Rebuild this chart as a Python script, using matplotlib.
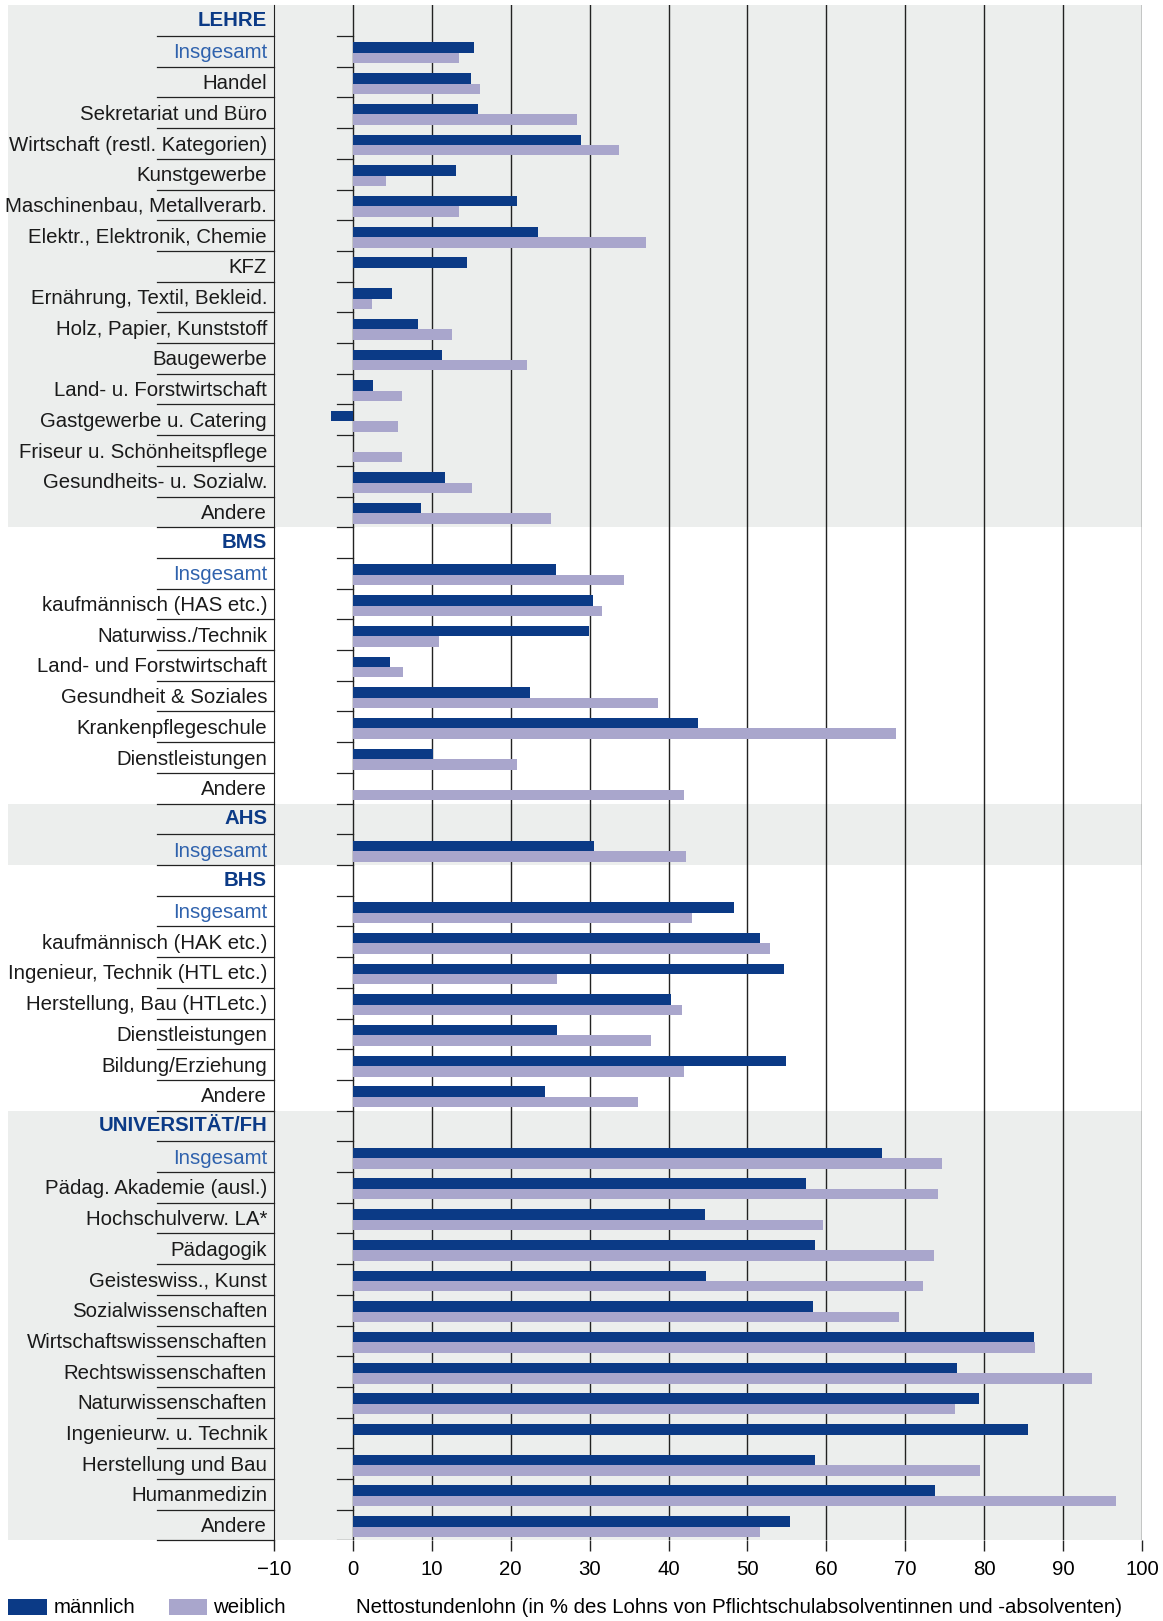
import matplotlib
matplotlib.use("Agg")
import matplotlib.pyplot as plt
from matplotlib.patches import Rectangle
import matplotlib.transforms as mtransforms

plt.rcParams['font.family'] = ['Liberation Sans', 'DejaVu Sans']

# (label, kind, male, female); kind: 'h' header, 'i' Insgesamt, 'r' row
rows = [
    ("LEHRE", "h", None, None),
    ("Insgesamt", "i", 15.3, 13.4),
    ("Handel", "r", 15.0, 16.1),
    ("Sekretariat und Büro", "r", 15.9, 28.4),
    ("Wirtschaft (restl. Kategorien)", "r", 28.9, 33.7),
    ("Kunstgewerbe", "r", 13.0, 4.2),
    ("Maschinenbau, Metallverarb.", "r", 20.8, 13.4),
    ("Elektr., Elektronik, Chemie", "r", 23.4, 37.1),
    ("KFZ", "r", 14.5, None),
    ("Ernährung, Textil, Bekleid.", "r", 4.9, 2.4),
    ("Holz, Papier, Kunststoff", "r", 8.2, 12.5),
    ("Baugewerbe", "r", 11.3, 22.1),
    ("Land- u. Forstwirtschaft", "r", 2.5, 6.2),
    ("Gastgewerbe u. Catering", "r", -2.8, 5.7),
    ("Friseur u. Schönheitspflege", "r", None, 6.2),
    ("Gesundheits- u. Sozialw.", "r", 11.7, 15.1),
    ("Andere", "r", 8.6, 25.1),
    ("BMS", "h", None, None),
    ("Insgesamt", "i", 25.7, 34.3),
    ("kaufmännisch (HAS etc.)", "r", 30.4, 31.6),
    ("Naturwiss./Technik", "r", 29.9, 10.9),
    ("Land- und Forstwirtschaft", "r", 4.7, 6.4),
    ("Gesundheit & Soziales", "r", 22.4, 38.6),
    ("Krankenpflegeschule", "r", 43.7, 68.8),
    ("Dienstleistungen", "r", 10.1, 20.8),
    ("Andere", "r", None, 42.0),
    ("AHS", "h", None, None),
    ("Insgesamt", "i", 30.5, 42.2),
    ("BHS", "h", None, None),
    ("Insgesamt", "i", 48.3, 43.0),
    ("kaufmännisch (HAK etc.)", "r", 51.6, 52.9),
    ("Ingenieur, Technik (HTL etc.)", "r", 54.6, 25.9),
    ("Herstellung, Bau (HTLetc.)", "r", 40.3, 41.7),
    ("Dienstleistungen", "r", 25.8, 37.8),
    ("Bildung/Erziehung", "r", 54.9, 42.0),
    ("Andere", "r", 24.3, 36.1),
    ("UNIVERSITÄT/FH", "h", None, None),
    ("Insgesamt", "i", 67.1, 74.6),
    ("Pädag. Akademie (ausl.)", "r", 57.4, 74.2),
    ("Hochschulverw. LA*", "r", 44.6, 59.6),
    ("Pädagogik", "r", 58.6, 73.6),
    ("Geisteswiss., Kunst", "r", 44.7, 72.2),
    ("Sozialwissenschaften", "r", 58.3, 69.2),
    ("Wirtschaftswissenschaften", "r", 86.3, 86.4),
    ("Rechtswissenschaften", "r", 76.6, 93.7),
    ("Naturwissenschaften", "r", 79.3, 76.3),
    ("Ingenieurw. u. Technik", "r", 85.5, None),
    ("Herstellung und Bau", "r", 58.6, 79.5),
    ("Humanmedizin", "r", 73.8, 96.7),
    ("Andere", "r", 55.4, 51.6),
]
grey_bands = [(0, 16), (26, 27), (36, 49)]

c_m = "#0b3a86"
c_w = "#a9a6cc"
c_head = "#0b3a86"
c_ins = "#2f62ad"
fs = 14.7

fig = plt.figure(figsize=(11.63, 16.21), dpi=100)
ax = fig.add_axes([0.2356, 0.0497, 0.7464, 0.947])
n = len(rows)
ax.set_xlim(-10, 100)
ax.set_ylim(n - 0.5, -0.5)

trans = mtransforms.blended_transform_factory(ax.transAxes, ax.transData)
for a, b in grey_bands:
    ax.add_patch(Rectangle((-0.306, a - 0.5), 1.306, b - a + 1, transform=trans,
                           facecolor="#eceeed", edgecolor="none", clip_on=False, zorder=0))

for x in range(0, 101, 10):
    ax.axvline(x, color="#222222", lw=1.0, zorder=1)

h = 0.34
for i, (lab, kind, m, w) in enumerate(rows):
    if m is not None:
        ax.barh(i - 0.12, m, height=h, color=c_m, zorder=2)
    if w is not None:
        ax.barh(i + 0.22, w, height=h, color=c_w, zorder=2)
    if kind == "h":
        ax.text(-0.008, i, lab, transform=trans, ha="right", va="center",
                fontsize=fs, fontweight="bold", color=c_head)
    else:
        ax.text(-0.008, i + 0.05, lab, transform=trans, ha="right", va="center",
                fontsize=fs, color=c_ins if kind == "i" else "#1a1a1a")
    # separator below label and tick dash
    ax.plot([-0.1345, 0], [i + 0.5, i + 0.5], transform=trans, color="#222222",
            lw=0.9, clip_on=False, zorder=3)
    ax.plot([-2, 0], [i + 0.5, i + 0.5], color="#222222", lw=0.9, zorder=3)

for s in ["top", "right", "bottom"]:
    ax.spines[s].set_visible(False)
ax.spines["left"].set_color("#222222")
ax.set_yticks([])
ax.set_xticks(range(-10, 101, 10))
ax.set_xticklabels(["\u221210"] + [str(v) for v in range(0, 101, 10)])
ax.tick_params(axis="x", length=8, width=1, color="#222222", labelsize=fs, pad=6)

fig.patches.append(Rectangle((0.007, 0.0035), 0.033, 0.01, transform=fig.transFigure,
                             facecolor=c_m, edgecolor="none"))
fig.text(0.046, 0.0085, "männlich", fontsize=fs, va="center")
fig.patches.append(Rectangle((0.145, 0.0035), 0.033, 0.01, transform=fig.transFigure,
                             facecolor=c_w, edgecolor="none"))
fig.text(0.183, 0.0085, "weiblich", fontsize=fs, va="center")
fig.text(0.306, 0.0085, "Nettostundenlohn (in % des Lohns von Pflichtschulabsolventinnen und -absolventen)",
         fontsize=fs, va="center")

fig.savefig("out.png", dpi=100)
